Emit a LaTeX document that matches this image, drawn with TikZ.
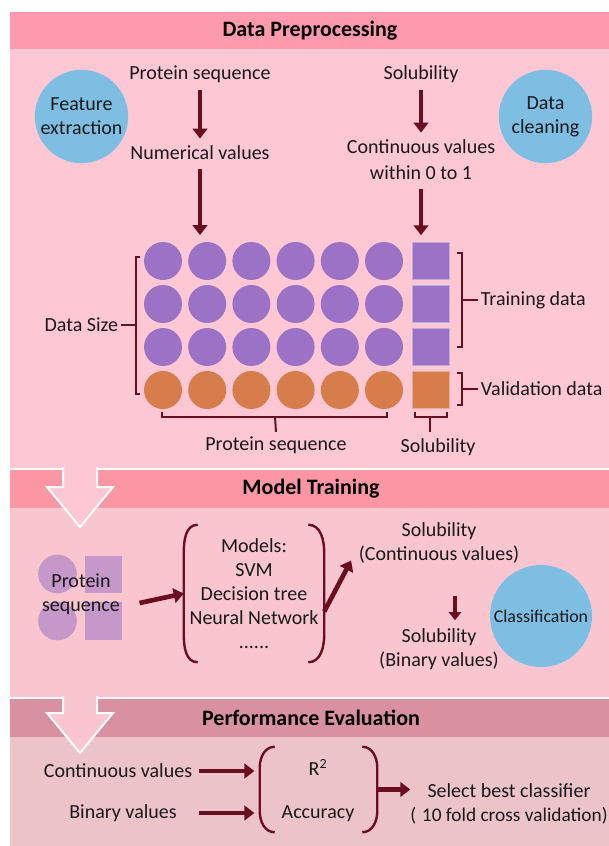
\documentclass[tikz,border=0pt]{standalone}
\usepackage{fontspec}
\setmainfont{Carlito}
\usetikzlibrary{shapes, calc, arrows.meta, positioning}

\definecolor{headPrep}{RGB}{255,153,174}
\definecolor{bodyPrep}{RGB}{254,199,212}
\definecolor{headTrain}{RGB}{251,151,163}
\definecolor{bodyTrain}{RGB}{249,198,207}
\definecolor{headEval}{RGB}{217,144,160}
\definecolor{bodyEval}{RGB}{237,195,202}
\definecolor{bubbleBlue}{RGB}{127,190,227}
\definecolor{dotPurple}{RGB}{155,114,198}
\definecolor{dotOrange}{RGB}{215,124,75}
\definecolor{iconPurple}{RGB}{198,151,201}
\definecolor{maroon}{RGB}{106,15,32}
\definecolor{textDark}{RGB}{25,25,25}

\tikzstyle{txt}=[font={\fontsize{15}{18}\selectfont}, text=textDark, align=center]
\tikzstyle{title}=[font={\fontsize{16.5}{20}\bfseries\selectfont}, text=black]
\tikzstyle{bubble}=[circle, fill=bubbleBlue, inner sep=0pt, txt]
\tikzstyle{seqDot}=[circle, minimum size=28.5pt, inner sep=0pt]
\tikzstyle{labelBox}=[rectangle, minimum size=28pt, inner sep=0pt, line width=0.6pt]
\tikzstyle{flowArrow}=[line width=3.5pt, draw=maroon, -{Triangle[length=7.5pt,width=11pt]}]
\tikzstyle{smallArrow}=[line width=3pt, draw=maroon, -{Triangle[length=6pt,width=9pt]}]
\tikzstyle{bracketLine}=[line width=1.5pt, draw=maroon]
\tikzstyle{parenLine}=[line width=1.8pt, draw=maroon]
\tikzstyle{hollowArrow}=[draw=white, line width=1.5pt, line join=miter]

\begin{document}
\begin{tikzpicture}[x=0.75pt, y=-0.75pt]
    \useasboundingbox (0,0) rectangle (609,846);
    \fill[white] (0,0) rectangle (609,846);

    % panels
    \fill[headPrep] (10,12) rectangle (620,49);
    \fill[bodyPrep] (10,49) rectangle (620,468);
    \fill[headTrain] (10,470) rectangle (620,508);
    \fill[bodyTrain] (10,508) rectangle (620,697);
    \fill[headEval] (10,699) rectangle (620,737);
    \fill[bodyEval] (10,737) rectangle (620,850);

    \node (ttlPrep)[title] at (310,31) {Data Preprocessing};
    \node (ttlTrain)[title] at (311,489) {Model Training};
    \node (ttlEval)[title] at (311,718) {Performance Evaluation};

    % hollow arrows between panels
    \filldraw[hollowArrow, fill=bodyPrep] (63,467) -- (63,487) -- (47,487) -- (80,527) -- (113,487) -- (97,487) -- (97,467);
    \filldraw[hollowArrow, fill=bodyTrain] (63,696) -- (63,713) -- (47,713) -- (80,753) -- (113,713) -- (97,713) -- (97,696);

    % data preprocessing
    \node (featExt)[bubble, minimum size=70pt] at (81.5,116.5) {Feature\\extraction};
    \node (dataClean)[bubble, minimum size=70pt] at (545.5,116.5) {Data\\cleaning};

    \node (protTop)[txt] at (200,74) {Protein sequence};
    \node (numVal)[txt] at (200,153) {Numerical values};
    \node (solTop)[txt] at (421,74) {Solubility};
    \node (contVal01)[txt, font={\fontsize{15}{19.5}\selectfont}] at (421,160) {Continuous values\\within 0 to 1};

    \foreach \r in {1,2,3}
        \foreach \c in {1,...,6}
            \node (c\r\c)[seqDot, fill=dotPurple] at ({163+(\c-1)*44.2}, {261+(\r-1)*43}) {};
    \foreach \c in {1,...,6}
        \node (c4\c)[seqDot, fill=dotOrange] at ({163+(\c-1)*44.2}, 390) {};
    \foreach \r/\y in {1/261, 2/304, 3/347}
        \node (s\r)[labelBox, fill=dotPurple, draw=dotPurple!60!white] at (431,\y) {};
    \node (s4)[labelBox, fill=dotOrange, draw=dotOrange!60!white] at (431,390) {};

    \draw[flowArrow, shorten <=2pt, shorten >=2pt] (protTop) -- (numVal);
    \draw[flowArrow, shorten <=3pt, shorten >=5pt] (numVal) -- (numVal |- c12.north);
    \draw[flowArrow, shorten <=2pt, shorten >=2pt] (solTop) -- (contVal01);
    \draw[flowArrow, shorten <=3pt, shorten >=5pt] (contVal01) -- (contVal01 |- s1.north);

    % brackets
    \node (dataSize)[txt, anchor=east, inner sep=2pt] at (121,325) {Data Size};
    \node (trainData)[txt, anchor=west, inner sep=2pt] at (478,300) {Training data};
    \node (validData)[txt, anchor=west, inner sep=2pt] at (478,389) {Validation data};
    \node (protBottom)[txt] at (276,445) {Protein sequence};
    \node (solBottom)[txt] at (438,447) {Solubility};

    \draw[bracketLine] (140,257) -- (136,257) -- (136,394) -- (140,394);
    \draw[bracketLine] (136,325) -- (dataSize.east);
    \draw[bracketLine] (457,253) -- (462,253) -- (462,347) -- (457,347);
    \draw[bracketLine] (462,300) -- (trainData.west);
    \draw[bracketLine] (457,373) -- (462,373) -- (462,405) -- (457,405);
    \draw[bracketLine] (462,389) -- (validData.west);
    \draw[bracketLine] (162,412) -- (162,417) -- (387,417) -- (387,412);
    \draw[bracketLine] (275,417) -- (protBottom.north);
    \draw[bracketLine] (415,412) -- (415,417) -- (447,417) -- (447,412);
    \draw[bracketLine] (430,417) -- (430,432);

    % model training
    \node (protDotA)[circle, fill=iconPurple, minimum size=29pt, inner sep=0pt] at (57.5,574) {};
    \node (protDotB)[circle, fill=iconPurple, minimum size=29pt, inner sep=0pt] at (57.5,621) {};
    \node (protBoxA)[rectangle, fill=iconPurple, minimum width=27.75pt, minimum height=27.75pt, inner sep=0pt] at (103.5,574.5) {};
    \node (protBoxB)[rectangle, fill=iconPurple, minimum width=27.75pt, minimum height=28.5pt, inner sep=0pt] at (103.5,621) {};
    \node (protIcon)[txt] at (81,594.5) {Protein\\sequence};

    \node (modelsBox)[minimum width=105pt, minimum height=102.75pt, inner sep=0pt] at (254,593.5) {};
    \node (models)[txt] at (254,593.5) {Models:\\SVM\\Decision tree\\Neural Network\\......};
    \draw[parenLine] ($(modelsBox.north west)+(14,0)$) to[out=180,in=90] ($(modelsBox.west)+(0,-40)$) -- ($(modelsBox.west)+(0,40)$) to[out=-90,in=180] ($(modelsBox.south west)+(14,0)$);
    \draw[parenLine] ($(modelsBox.north east)+(-16,0)$) to[out=0,in=90] ($(modelsBox.east)+(0,-40)$) -- ($(modelsBox.east)+(0,40)$) to[out=-90,in=0] ($(modelsBox.south east)+(-16,0)$);

    \node (solCont)[txt] at (439,542.5) {Solubility\\(Continuous values)};
    \node (solBin)[txt] at (439,649.5) {Solubility\\(Binary values)};
    \node (classif)[bubble, minimum size=76.5pt, font={\fontsize{13.4}{16}\selectfont}] at (541,616) {Classification};

    \draw[flowArrow] ($(protIcon.east)+(15,8.5)$) -- (modelsBox.west);
    \draw[flowArrow] ($(modelsBox.east)+(0,18)$) -- ($(solCont.south west)+(-3,-7)$);
    \draw[smallArrow, shorten <=21pt, shorten >=3pt] ([xshift=12pt]solCont.south) -- ([xshift=12pt]solBin.north);

    % performance evaluation
    \node (contVal)[txt] at (118,771) {Continuous values};
    \node (binVal)[txt] at (123,813) {Binary values};
    \node (evalBox)[minimum width=87.75pt, minimum height=63.75pt, inner sep=0pt] at (318.5,789.5) {};
    \node (rSquare)[txt] at (318,767) {R\textsuperscript{2}};
    \node (accuracy)[txt] at (318,814) {Accuracy};
    \draw[parenLine] ($(evalBox.north west)+(15,0)$) to[out=180,in=90] ($(evalBox.west)+(0,-22)$) -- ($(evalBox.west)+(0,22)$) to[out=-90,in=180] ($(evalBox.south west)+(15,0)$);
    \draw[parenLine] ($(evalBox.north east)+(-15,0)$) to[out=0,in=90] ($(evalBox.east)+(0,-22)$) -- ($(evalBox.east)+(0,22)$) to[out=-90,in=0] ($(evalBox.south east)+(-15,0)$);

    \node (selectBest)[txt, inner xsep=0pt] at (509,804) {Select best classifier\\{\fontsize{14.5}{18}\selectfont(\hspace{0.3em}10 fold cross validation)}};

    \draw[flowArrow, shorten <=1.5pt, shorten >=4pt] (contVal.east) -- (evalBox.west |- contVal.east);
    \draw[flowArrow, shorten <=13.5pt, shorten >=4pt] (binVal.east) -- (evalBox.west |- binVal.east);
    \draw[flowArrow] (evalBox.east) -- ++(33,0);

\end{tikzpicture}
\end{document}
